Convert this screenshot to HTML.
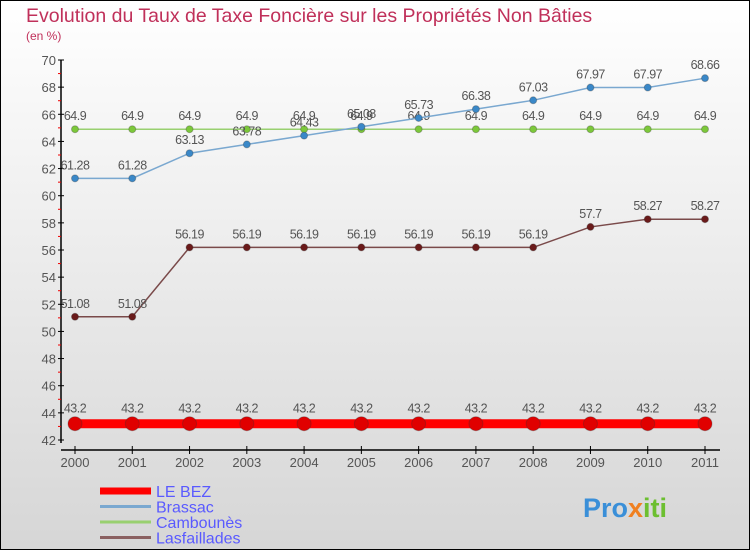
<!DOCTYPE html>
<html><head><meta charset="utf-8"><style>
body{margin:0}
svg{display:block;font-family:"Liberation Sans","DejaVu Sans",sans-serif}
</style></head><body>
<svg width="750" height="550" viewBox="0 0 750 550">
<defs><linearGradient id="bg" x1="0" y1="0" x2="0" y2="1"><stop offset="0" stop-color="#ffffff"/><stop offset="1" stop-color="#d6d6d6"/></linearGradient></defs>
<rect x="0.5" y="0.5" width="749" height="549" fill="url(#bg)" stroke="#000"/>
<text x="26" y="22" font-size="19.5" fill="#c0305a">Evolution du Taux de Taxe Foncière sur les Propriétés Non Bâties</text>
<text x="26" y="40" font-size="12" fill="#c0305a">(en %)</text>
<g id="axes"></g>
<g id="series"></g>
<g id="legend"></g>
<text x="583" y="517" font-size="27" font-weight="bold" fill="#3a8fd8">Pro<tspan fill="#f08020">x</tspan><tspan fill="#6cbf30">iti</tspan></text>
</svg>
<script>
const years=[2000,2001,2002,2003,2004,2005,2006,2007,2008,2009,2010,2011];
const yTicks=[42,44,46,48,50,52,54,56,58,60,62,64,66,68,70];
const seriesNames=["LE BEZ","Brassac","Cambounès","Lasfaillades"];
const leBez=[43.2,43.2,43.2,43.2,43.2,43.2,43.2,43.2,43.2,43.2,43.2,43.2];
const brassac=[61.28,61.28,63.13,63.78,64.43,65.08,65.73,66.38,67.03,67.97,67.97,68.66];
const cambounes=[64.9,64.9,64.9,64.9,64.9,64.9,64.9,64.9,64.9,64.9,64.9,64.9];
const lasfaillades=[51.08,51.08,56.19,56.19,56.19,56.19,56.19,56.19,56.19,57.7,58.27,58.27];
const NS="http://www.w3.org/2000/svg";
const xS=i=>75+i*(705-75)/(years.length-1);
const yS=v=>440-(v-42)*(380/28);
function mk(tag,attrs,parent){const e=document.createElementNS(NS,tag);for(const k in attrs)e.setAttribute(k,attrs[k]);parent.appendChild(e);return e;}
const axes=document.getElementById('axes');
const yAxis=mk('line',{x1:61,y1:60,x2:61,y2:443,stroke:'#000','stroke-width':1.5},axes);


yTicks.forEach((t,i)=>{
  const y=yS(t);
  mk('line',{x1:58,y1:y,x2:64,y2:y,stroke:'#000'},axes);
  if(i<yTicks.length-1) mk('line',{x1:58,y1:y-190/14,x2:61,y2:y-190/14,stroke:'#e00'},axes);
  const tx=mk('text',{x:56,y:y+5,'text-anchor':'end','font-size':13,fill:'#555'},axes);
  tx.textContent=t;
  
  
});
const xAxis=mk('line',{x1:61,y1:450,x2:720,y2:450,stroke:'#000','stroke-width':1.5},axes);


years.forEach((yr,i)=>{
  const x=xS(i);
  mk('line',{x1:x,y1:446,x2:x,y2:454,stroke:'#000'},axes);
  const tx=mk('text',{x:x,y:467,'text-anchor':'middle','font-size':13,fill:'#555'},axes);
  tx.textContent=yr;
  
  
});
const sg=document.getElementById('series');
function drawSeries(vals,name,color,dot,lw,r,labelOff){
  const g=mk('g',{},sg);
  
  
  const pl=mk('polyline',{points:vals.map((v,i)=>xS(i)+','+yS(v)).join(' '),fill:'none',stroke:color,'stroke-width':lw},g);
  
  
  vals.forEach((v,i)=>{
    const c=mk('circle',{cx:xS(i),cy:yS(v),r:r,fill:dot,stroke:'#333','stroke-opacity':0.3},g);
    
    
    const t=mk('text',{x:xS(i),y:yS(v)-labelOff,'text-anchor':'middle','font-size':12.5,fill:'#555','letter-spacing':'-0.5'},g);
    t.textContent=String(v);
    
    
  });
}
drawSeries(lasfaillades,'lasfaillades','#7a4a4a','#6a1a1a',1.5,3.5,9);
drawSeries(cambounes,'cambounes','#99d070','#7cc83a',1.5,3.5,9);
drawSeries(brassac,'brassac','#7aa8d0','#3a88c8',1.5,3.5,9);
drawSeries(leBez,'le-bez','#ff0000','#e00000',9,7,11);
const lg=document.getElementById('legend');
const lcol=['#ff0000','#7aa8d0','#99d070','#8a6060'];
const lw=[7,3,3,3];
seriesNames.forEach((n,i)=>{
  const y=491+i*15.5;
  const g=mk('g',{},lg);
  
  
  mk('line',{x1:100,y1:y,x2:151,y2:y,stroke:lcol[i],'stroke-width':lw[i]},g);
  const t=mk('text',{x:156,y:y+6,'font-size':16,fill:'#5a5aff'},g);
  t.textContent=n;
});
</script>
</body></html>
